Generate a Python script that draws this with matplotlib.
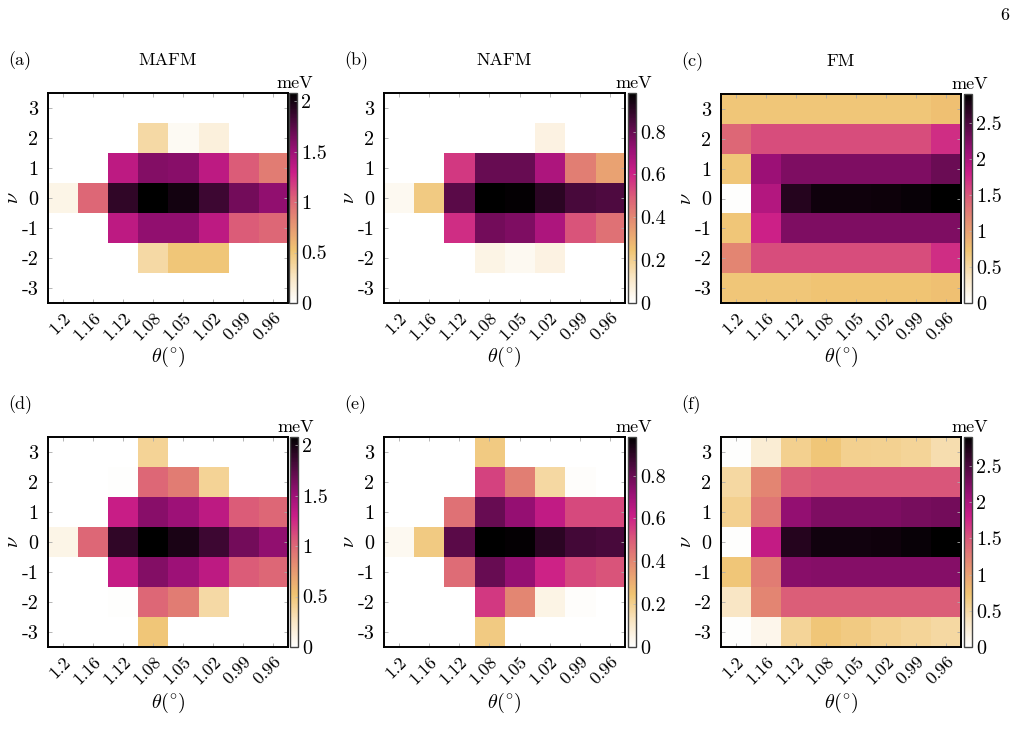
import numpy as np
import matplotlib
matplotlib.use("Agg")
import matplotlib.pyplot as plt
from matplotlib.colors import LinearSegmentedColormap

plt.rcParams['font.family'] = 'serif'
plt.rcParams['font.serif'] = ['cmr10']
plt.rcParams['mathtext.fontset'] = 'cm'
plt.rcParams['axes.unicode_minus'] = False
plt.rcParams['axes.formatter.use_mathtext'] = True

theta_labels = ["1.2", "1.16", "1.12", "1.08", "1.05", "1.02", "0.99", "0.96"]
nu_labels = ["3", "2", "1", "0", "-1", "-2", "-3"]  # top to bottom

# rows: nu = 3 ... -3 ; cols: theta as above
mafm_top = [
    [0, 0, 0, 0, 0, 0, 0, 0],
    [0, 0, 0, 0.35, 0.05, 0.15, 0, 0],
    [0, 0, 1.35, 1.60, 1.58, 1.35, 1.05, 0.90],
    [0.10, 1.00, 1.90, 2.08, 2.00, 1.85, 1.65, 1.55],
    [0, 0, 1.35, 1.55, 1.55, 1.35, 1.05, 1.00],
    [0, 0, 0, 0.35, 0.50, 0.50, 0, 0],
    [0, 0, 0, 0, 0, 0, 0, 0],
]
nafm_top = [
    [0, 0, 0, 0, 0, 0, 0, 0],
    [0, 0, 0, 0, 0, 0.06, 0, 0],
    [0, 0, 0.56, 0.80, 0.80, 0.67, 0.42, 0.33],
    [0.03, 0.22, 0.82, 0.98, 0.97, 0.90, 0.85, 0.84],
    [0, 0, 0.58, 0.78, 0.76, 0.67, 0.51, 0.45],
    [0, 0, 0, 0.05, 0.03, 0.06, 0, 0],
    [0, 0, 0, 0, 0, 0, 0, 0],
]
fm_top = [
    [0.70, 0.70, 0.70, 0.70, 0.70, 0.70, 0.70, 0.75],
    [1.40, 1.55, 1.55, 1.55, 1.55, 1.55, 1.55, 1.72],
    [0.70, 2.10, 2.25, 2.25, 2.25, 2.25, 2.25, 2.35],
    [0.02, 1.95, 2.70, 2.82, 2.82, 2.83, 2.85, 2.90],
    [0.70, 1.78, 2.25, 2.25, 2.25, 2.25, 2.25, 2.25],
    [1.20, 1.55, 1.55, 1.55, 1.55, 1.55, 1.55, 1.72],
    [0.70, 0.70, 0.70, 0.72, 0.72, 0.72, 0.72, 0.75],
]
mafm_bot = [
    [0, 0, 0, 0.40, 0, 0, 0, 0],
    [0, 0, 0.01, 1.00, 0.90, 0.40, 0, 0],
    [0, 0, 1.30, 1.58, 1.50, 1.35, 1.05, 1.00],
    [0.10, 1.00, 1.90, 2.08, 1.98, 1.85, 1.65, 1.55],
    [0, 0, 1.32, 1.60, 1.50, 1.35, 1.05, 1.00],
    [0, 0, 0.01, 1.00, 0.90, 0.35, 0, 0],
    [0, 0, 0, 0.50, 0, 0, 0, 0],
]
nafm_bot = [
    [0, 0, 0, 0.22, 0, 0, 0, 0],
    [0, 0, 0, 0.54, 0.42, 0.17, 0.01, 0],
    [0, 0, 0.45, 0.80, 0.72, 0.63, 0.53, 0.53],
    [0.03, 0.22, 0.82, 0.98, 0.97, 0.90, 0.86, 0.85],
    [0, 0, 0.46, 0.80, 0.72, 0.60, 0.53, 0.51],
    [0, 0, 0, 0.56, 0.40, 0.05, 0.01, 0],
    [0, 0, 0, 0.22, 0, 0, 0, 0],
]
fm_bot = [
    [0.02, 0.25, 0.60, 0.70, 0.60, 0.58, 0.55, 0.45],
    [0.50, 1.20, 1.45, 1.50, 1.50, 1.50, 1.50, 1.50],
    [0.60, 1.30, 2.15, 2.25, 2.25, 2.25, 2.28, 2.30],
    [0.02, 1.85, 2.70, 2.80, 2.80, 2.82, 2.85, 2.90],
    [0.70, 1.25, 2.20, 2.22, 2.22, 2.22, 2.22, 2.22],
    [0.35, 1.20, 1.45, 1.45, 1.45, 1.45, 1.45, 1.45],
    [0.02, 0.12, 0.55, 0.70, 0.65, 0.60, 0.55, 0.50],
]

vmax_mafm = 2.08
vmax_nafm = 0.98
vmax_fm = 2.9

cmap = LinearSegmentedColormap.from_list("custom", [
    (0.00, "#ffffff"),
    (0.12, "#f9e6c4"),
    (0.25, "#f0c472"),
    (0.40, "#e48a72"),
    (0.50, "#dc6078"),
    (0.62, "#cc1e88"),
    (0.73, "#9a1076"),
    (0.86, "#4e0a40"),
    (1.00, "#000000"),
])

W, H = 1021, 741
fig = plt.figure(figsize=(W / 100, H / 100), dpi=100)

FS = 14.5
FSX = 13
FS_T = 13

def px_axes(l, t, r, b):
    return fig.add_axes([l / W, 1 - b / H, (r - l) / W, (b - t) / H])

panels = [
    (mafm_top, vmax_mafm, [0, 0.5, 1, 1.5, 2], ["0", "0.5", "1", "1.5", "2"], (48, 93, 288, 303), (289, 297), "(a)", "MAFM"),
    (nafm_top, vmax_nafm, [0, 0.2, 0.4, 0.6, 0.8], ["0", "0.2", "0.4", "0.6", "0.8"], (384, 93, 625, 303), (628, 636), "(b)", "NAFM"),
    (fm_top, vmax_fm, [0, 0.5, 1, 1.5, 2, 2.5], ["0", "0.5", "1", "1.5", "2", "2.5"], (721, 94, 961, 303), (964, 972), "(c)", "FM"),
    (mafm_bot, vmax_mafm, [0, 0.5, 1, 1.5, 2], ["0", "0.5", "1", "1.5", "2"], (48, 437, 288, 647), (290, 298), "(d)", None),
    (nafm_bot, vmax_nafm, [0, 0.2, 0.4, 0.6, 0.8], ["0", "0.2", "0.4", "0.6", "0.8"], (384, 437, 625, 647), (628, 636), "(e)", None),
    (fm_bot, vmax_fm, [0, 0.5, 1, 1.5, 2, 2.5], ["0", "0.5", "1", "1.5", "2", "2.5"], (721, 437, 961, 647), (964, 972), "(f)", None),
]

for data, vmax, cticks, cticklabels, (l, t, r, b), (cl, cr), plabel, title in panels:
    ax = px_axes(l, t, r, b)
    arr = np.array(data, dtype=float)
    im = ax.imshow(arr, cmap=cmap, vmin=0, vmax=vmax, aspect='auto',
                   extent=(-0.5, len(theta_labels) - 0.5, -3.5, 3.5),
                   origin='upper', interpolation='nearest')
    ax.set_xticks(range(len(theta_labels)))
    ax.set_xticklabels(theta_labels, rotation=45, ha='right', va='top',
                       rotation_mode='anchor', fontsize=FSX)
    ax.set_yticks([3, 2, 1, 0, -1, -2, -3])
    ax.set_yticklabels(nu_labels, fontsize=FS)
    ax.tick_params(direction='in', length=3, width=0.6, color='#aaaaaa',
                   top=True, right=True, pad=7)
    ax.tick_params(axis='x', pad=5)
    for s in ax.spines.values():
        s.set_linewidth(1.4)
    ax.set_xlabel(r'$\theta(^{\circ})$', fontsize=FS, va='center')
    ax.set_ylabel(r'$\nu$', fontsize=FS, va='center')
    below = 54 if t < 200 else 56
    ax.xaxis.set_label_coords(0.5, -below / (b - t))
    ax.yaxis.set_label_coords(-35 / (r - l), 0.5)

    cax = px_axes(cl, t, cr, b)
    cb = fig.colorbar(im, cax=cax)
    cb.set_ticks(cticks)
    cb.set_ticklabels(cticklabels)
    cb.ax.tick_params(labelsize=FS, direction='in', length=2, width=0.5, color='#bbbbbb', pad=3)
    cb.outline.set_linewidth(1.0)
    cb.outline.set_edgecolor('#444444')
    fig.text(((cl + cr) / 2 + 2) / W, 1 - (t - 2) / H, "meV", ha='center', va='bottom', fontsize=FS_T)

    ly = t - 32
    fig.text((l - 40) / W, 1 - ly / H, plabel, ha='left', va='center', fontsize=FS_T)
    if title:
        fig.text(((l + r) / 2) / W, 1 - (t - 33) / H, title, ha='center', va='center', fontsize=FS_T)

fig.text(1005 / W, 1 - 15 / H, "6", ha='center', va='center', fontsize=FS_T)

fig.savefig("out.png", dpi=100)
